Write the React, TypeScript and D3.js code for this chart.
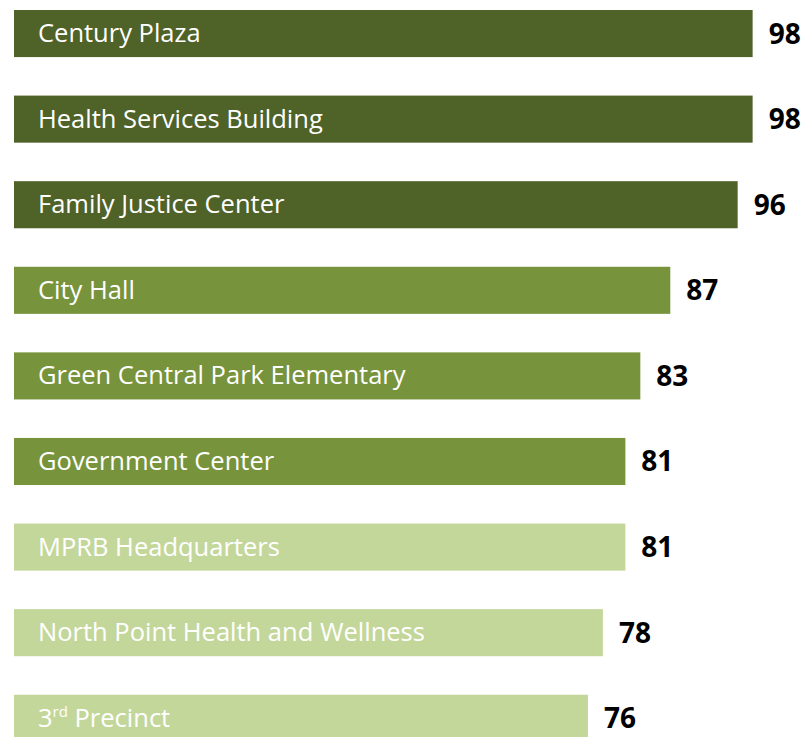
import * as d3 from "d3";

// values, top to bottom
const SITES = [
  "Century Plaza",
  "Health Services Building",
  "Family Justice Center",
  "City Hall",
  "Green Central Park Elementary",
  "Government Center",
  "MPRB Headquarters",
  "North Point Health and Wellness",
  "3rd Precinct",
];
const SCORES = [98, 98, 96, 87, 83, 81, 81, 78, 76];
const TIERS = ["top", "top", "top", "mid", "mid", "mid", "low", "low", "low"];

const TIER_COLORS: Record<string, string> = {
  top: "#4F6228",
  mid: "#77933C",
  low: "#C4D79B",
};

const width = 805;
const height = 737;
const barLeft = 14;

const x = d3.scaleLinear().domain([0, 100]).range([19, 767.6]);
const y = d3
  .scaleBand<string>()
  .domain(SITES)
  .range([10, 741.8])
  .paddingInner(0.45)
  .paddingOuter(0);

// "3rd" gets a superscript suffix like the original
function Label({ name }: { name: string }) {
  const m = name.match(/^(\d+)(st|nd|rd|th)(.*)$/);
  if (!m) return <>{name}</>;
  return (
    <>
      {m[1]}
      <tspan fontSize={15} dy={-10}>{m[2]}</tspan>
      <tspan dy={10}>{m[3]}</tspan>
    </>
  );
}

export default function App() {
  const font = "'Open Sans', 'Noto Sans', sans-serif";
  return (
    <svg
      width={width}
      height={height}
      style={{ position: "absolute", left: 0, top: 0, background: "#fff" }}
    >
      {SITES.map((s, i) => {
        const top = y(s) ?? 0;
        const bh = y.bandwidth();
        const end = x(SCORES[i]);
        return (
          <g key={s}>
            <rect x={barLeft} y={top} width={end - barLeft} height={bh} fill={TIER_COLORS[TIERS[i]]} />
            <text
              x={38}
              y={top + bh / 2 + 8.5}
              fontFamily={font}
              fontSize={25.5}
              fill="#fff"
            >
              <Label name={s} />
            </text>
            <text
              x={end + 16}
              y={top + bh / 2 + 10}
              fontFamily={font}
              fontWeight={700}
              fontSize={28}
              fill="#000"
            >
              {SCORES[i]}
            </text>
          </g>
        );
      })}
    </svg>
  );
}
